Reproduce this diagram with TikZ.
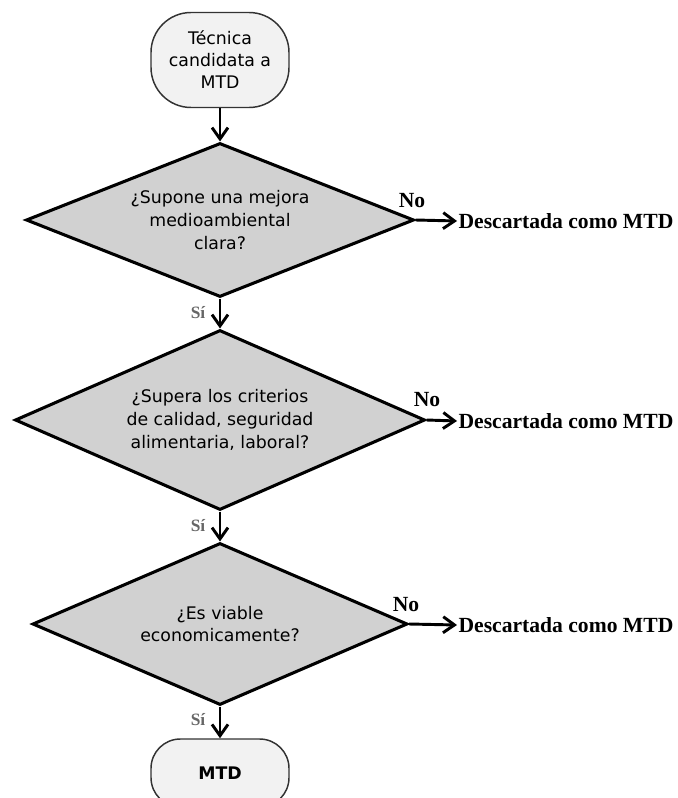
\documentclass[tikz,border=0pt]{standalone}
\usepackage{fontspec}
\setmainfont{Liberation Serif}
\newfontfamily\dejavu{DejaVu Sans}
\usetikzlibrary{shapes.geometric,arrows.meta}
\definecolor{rombo}{gray}{0.82}
\definecolor{fondoterm}{gray}{0.95}

\begin{document}
\begin{tikzpicture}[x=0.75pt,y=-0.75pt,
	vect/.style={-{Straight Barb[length=8.5pt,width=12pt]},line width=2.2pt},
	decision/.style={diamond,aspect=2.5,draw,line width=2.3pt,fill=rombo,align=center,inner sep=0pt,
		font=\dejavu\fontsize{13}{17}\selectfont},
	terminal/.style={rectangle,rounded corners=30pt,draw=black!80,line width=1.1pt,fill=fondoterm,
		align=center,minimum width=103.5pt,font=\dejavu\fontsize{13}{16.5}\selectfont},
	descarte/.style={anchor=west,inner sep=1pt,font=\bfseries\fontsize{16.2}{19}\selectfont},
	etiqno/.style={inner sep=0pt,font=\bfseries\fontsize{16.2}{19}\selectfont},
	etiqsi/.style={inner sep=0pt,text=black!60,font=\bfseries\fontsize{13}{15}\selectfont}]
		\useasboundingbox (0,0) rectangle (677,798);% same margins as the reference
		% start and end
		\node[terminal,minimum height=71.25pt] (inicio) at (220,60) {Técnica\\candidata a\\MTD};
		\node[terminal,rounded corners=22pt,minimum height=51pt,font=\dejavu\bfseries\fontsize{13}{16}\selectfont] (mtd) at (220,773) {MTD};
		% the three questions
		\node[decision,minimum width=291pt,minimum height=115.5pt] (mejora) at (220,220)
			{¿Supone una mejora\\medioambiental\\clara?};
		\node[decision,minimum width=307.5pt,minimum height=135pt] (criterios) at (220,420)
			{¿Supera los criterios\\de calidad, seguridad\\alimentaria, laboral?};
		\node[decision,minimum width=281.25pt,minimum height=121.5pt] (viable) at (220,624)
			{¿Es viable\\economicamente?};
		% rejected
		\node[descarte] (desc1) at (457,221) {Descartada como MTD};
		\node[descarte] (desc2) at (457,421) {Descartada como MTD};
		\node[descarte] (desc3) at (457,625) {Descartada como MTD};
		% answers
		\node[etiqno] (no1) at (412,201) {No};
		\node[etiqno] (no2) at (427,400) {No};
		\node[etiqno] (no3) at (406,605) {No};
		\node[etiqsi] (si1) at (198,313) {Sí};
		\node[etiqsi] (si2) at (198,526) {Sí};
		\node[etiqsi] (si3) at (198,720) {Sí};
		% connectors
		\draw[vect] (inicio.south) -- (mejora.north);
		\draw[vect] (mejora.south) -- (criterios.north);
		\draw[vect] (criterios.south) -- (viable.north);
		\draw[vect] (viable.south) -- (mtd.north);
		\draw[vect] (mejora.east) -- (desc1.west);
		\draw[vect] (criterios.east) -- (desc2.west);
		\draw[vect] (viable.east) -- (desc3.west);
	\end{tikzpicture}
\end{document}
